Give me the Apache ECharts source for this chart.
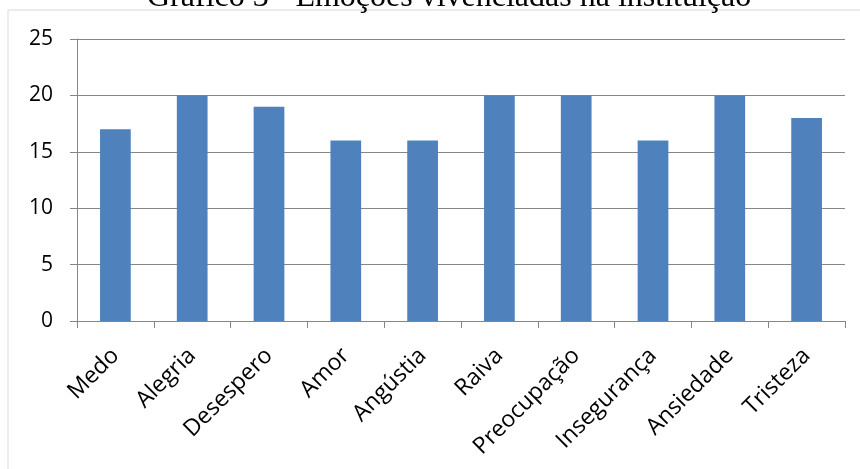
<!DOCTYPE html>
<html>
<head>
    <meta charset="utf-8">
    <title></title>
    <script src="https://cdn.jsdelivr.net/npm/echarts@6/dist/echarts.min.js"></script>
    <style>
        body{ margin: 0; background: #fff; }
        #chart{ width: 860px; height: 469px; }
    </style>
</head>
<body>
<div id="chart"></div>
<script>
    var categories = ['Medo', 'Alegria', 'Desespero', 'Amor', 'Angústia', 'Raiva', 'Preocupação', 'Insegurança', 'Ansiedade', 'Tristeza'];
    var values = [17, 20, 19, 16, 16, 20, 20, 16, 20, 18];
    var yTicks = [0, 5, 10, 15, 20, 25];

    var chart = echarts.init(document.getElementById('chart'));
    chart.setOption({
        animation: false,
        title: {
            text: 'Gráfico 3 - Emoções vivenciadas na instituição',
            left: 142,
            top: -23,
            textStyle: { fontFamily: 'Liberation Serif', fontSize: 32, fontWeight: 'normal', color: '#000' }
        },
        graphic: [{
            type: 'rect',
            shape: { x: 8, y: 10, width: 900, height: 500 },
            style: { fill: 'none', stroke: '#d9d9d9', lineWidth: 1 },
            z: -1
        }],
        grid: { left: 77, right: 15, top: 39, bottom: 148 },
        xAxis: {
            type: 'category',
            data: categories,
            axisLine: { lineStyle: { color: '#868686', width: 1 } },
            axisTick: { show: true, length: 7, lineStyle: { color: '#868686' } },
            axisLabel: { rotate: 45, margin: 31, fontFamily: 'Open Sans', fontSize: 23, color: '#000' }
        },
        yAxis: {
            type: 'value',
            min: yTicks[0],
            max: yTicks[yTicks.length - 1],
            interval: 5,
            axisLine: { show: true, lineStyle: { color: '#868686', width: 1 } },
            axisTick: { show: true, length: 7, lineStyle: { color: '#868686' } },
            splitLine: { lineStyle: { color: '#868686', width: 1 } },
            axisLabel: { margin: 24, fontFamily: 'Open Sans', fontSize: 21, color: '#000' }
        },
        series: [{
            type: 'bar',
            data: values,
            barWidth: '40%',
            itemStyle: { color: '#4f81bd' }
        }]
    });
</script>
</body>
</html>
